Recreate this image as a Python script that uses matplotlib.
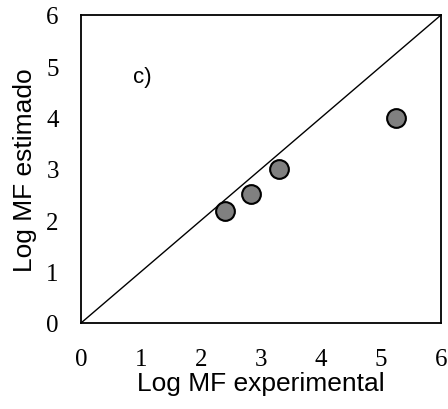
import matplotlib
matplotlib.use("Agg")
import matplotlib.pyplot as plt

x_exp = [2.40, 2.83, 3.30, 5.25]
y_est = [2.19, 2.51, 3.00, 3.99]
ticks = [0, 1, 2, 3, 4, 5, 6]
line = [0, 6]

fig = plt.figure(figsize=(4.48, 4.10), dpi=100)
ax = fig.add_axes([81/448, 86/410, 360/448, 308/410])
ax.plot(line, line, color="black", lw=1.0)
ax.plot(x_exp, y_est, "o", ms=13.5, mfc="#808080", mec="black", mew=1.5, clip_on=False)
ax.set_xlim(0, 6)
ax.set_ylim(0, 6)
ax.set_xticks(ticks)
ax.set_yticks(ticks)
ax.tick_params(length=0)
ax.tick_params(axis="x", pad=18)
ax.tick_params(axis="y", pad=16)
for lab in ax.get_xticklabels() + ax.get_yticklabels():
    lab.set_fontfamily("Liberation Serif")
    lab.set_fontsize(18)
for s in ax.spines.values():
    s.set_linewidth(1.3)
ax.set_xlabel("Log MF experimental", fontfamily="Liberation Sans", fontsize=19, labelpad=1)
ax.set_ylabel("Log MF estimado", fontfamily="Liberation Sans", fontsize=19, labelpad=7)
ax.text(1.02, 4.81, "c)", fontfamily="Liberation Sans", fontsize=16, ha="center", va="center")
fig.savefig("out.png", dpi=100)
